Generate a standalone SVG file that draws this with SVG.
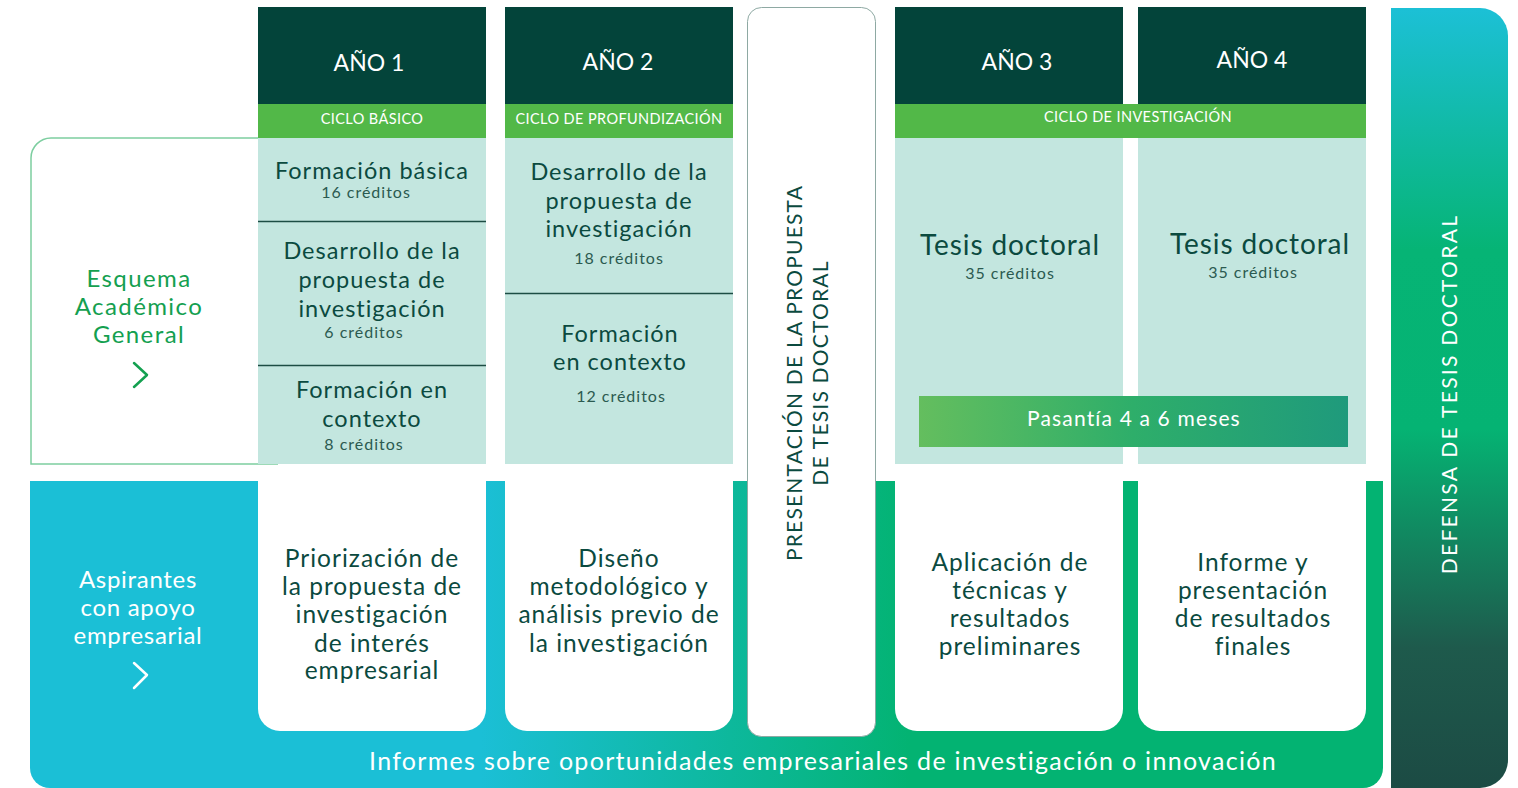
<svg xmlns="http://www.w3.org/2000/svg" width="1518" height="788" viewBox="0 0 1518 788">
<defs>
<linearGradient id="bandGrad" gradientUnits="userSpaceOnUse" x1="480" y1="0" x2="910" y2="0">
<stop offset="0" stop-color="#1bbfd6"/>
<stop offset="1" stop-color="#03b372"/>
</linearGradient>
<linearGradient id="rightGrad" gradientUnits="userSpaceOnUse" x1="0" y1="8" x2="0" y2="788">
<stop offset="0" stop-color="#1cc0d6"/>
<stop offset="0.31" stop-color="#06b475"/>
<stop offset="0.54" stop-color="#05b373"/>
<stop offset="0.82" stop-color="#1e5a4c"/>
<stop offset="1" stop-color="#1c4b44"/>
</linearGradient>
<linearGradient id="pasGrad" gradientUnits="userSpaceOnUse" x1="919" y1="0" x2="1348" y2="0">
<stop offset="0" stop-color="#64be5e"/>
<stop offset="0.5" stop-color="#2eae6a"/>
<stop offset="1" stop-color="#1f9a7c"/>
</linearGradient>
<style>
text{font-family:Lato,"Open Sans","Liberation Sans",sans-serif}
.hdr{font-size:23px;fill:#ffffff;text-anchor:middle}
.cyc{font-size:14.5px;fill:#ffffff;text-anchor:middle;letter-spacing:0.4px}
.body{font-size:23.5px;fill:#0b4a3f;text-anchor:middle;letter-spacing:1px}
.big{font-size:28px;fill:#0b4a3f;text-anchor:middle;letter-spacing:0.9px}
.cred{font-size:16px;fill:#2b5a50;text-anchor:middle;letter-spacing:1px}
.card{font-size:24.5px;fill:#0b4a3f;text-anchor:middle;letter-spacing:1px}
.white{font-size:24px;fill:#ffffff;text-anchor:middle;letter-spacing:0.7px}
.esq{font-size:24px;fill:#14a050;text-anchor:middle;letter-spacing:1.4px}
.dark{fill:#03443a}
.cband{fill:#52b848}
.light{fill:#c3e6df}
.div{stroke:#1d4d44;stroke-width:1.5}
.wcard{fill:#ffffff}
.chev{fill:none;stroke-width:2.5;stroke-linecap:round;stroke-linejoin:round}
</style>
</defs>
<rect width="1518" height="788" fill="#ffffff"/>

<g id="bottom-band">
<path d="M30 481 H1383 V768 A20 20 0 0 1 1363 788 H50 A20 20 0 0 1 30 768 Z" fill="url(#bandGrad)"/>
<text x="823" y="770" style="font-size:25px;fill:#ffffff;text-anchor:middle;letter-spacing:1.3px">Informes sobre oportunidades empresariales de investigación o innovación</text>
</g>

<g id="esquema-academico">
<path d="M278 464 H31 V158 A20 20 0 0 1 51 138 H260" fill="none" stroke="#7dcea0" stroke-width="1.5"/>
<text class="esq" x="139" y="287">Esquema</text>
<text class="esq" x="139" y="315">Académico</text>
<text class="esq" x="139" y="343">General</text>
<polyline class="chev" stroke="#14a050" points="134,363 147,375 134,387"/>
</g>

<g id="aspirantes">
<text class="white" x="138" y="588">Aspirantes</text>
<text class="white" x="138" y="616">con apoyo</text>
<text class="white" x="138" y="644">empresarial</text>
<polyline class="chev" stroke="#ffffff" points="134,663 147,675 134,688"/>
</g>

<g id="anio1">
<rect class="dark" x="258" y="7" width="228" height="97"/>
<rect class="cband" x="258" y="104" width="228" height="34"/>
<rect class="light" x="258" y="138" width="228" height="326"/>
<line class="div" x1="258" y1="221.5" x2="486" y2="221.5"/>
<line class="div" x1="258" y1="365.5" x2="486" y2="365.5"/>
<text class="hdr" x="369" y="71">AÑO 1</text>
<text class="cyc" x="372" y="124">CICLO BÁSICO</text>
<text class="body" x="372" y="179">Formación básica</text>
<text class="cred" x="366" y="198">16 créditos</text>
<text class="body" x="372" y="259">Desarrollo de la</text>
<text class="body" x="372" y="288">propuesta de</text>
<text class="body" x="372" y="317">investigación</text>
<text class="cred" x="364" y="338">6 créditos</text>
<text class="body" x="372" y="398">Formación en</text>
<text class="body" x="372" y="427">contexto</text>
<text class="cred" x="364" y="450">8 créditos</text>
<path class="wcard" d="M258 475 H486 V709 A22 22 0 0 1 464 731 H280 A22 22 0 0 1 258 709 Z"/>
<text class="card" x="372" y="567">Priorización de</text>
<text class="card" x="372" y="595">la propuesta de</text>
<text class="card" x="372" y="623">investigación</text>
<text class="card" x="372" y="652">de interés</text>
<text class="card" x="372" y="679">empresarial</text>
</g>

<g id="anio2">
<rect class="dark" x="505" y="7" width="228" height="97"/>
<rect class="cband" x="505" y="104" width="228" height="34"/>
<rect class="light" x="505" y="138" width="228" height="326"/>
<line class="div" x1="505" y1="293.5" x2="733" y2="293.5"/>
<text class="hdr" x="618" y="70">AÑO 2</text>
<text class="cyc" x="619" y="124">CICLO DE PROFUNDIZACIÓN</text>
<text class="body" x="619" y="180">Desarrollo de la</text>
<text class="body" x="619" y="209">propuesta de</text>
<text class="body" x="619" y="237">investigación</text>
<text class="cred" x="619" y="264">18 créditos</text>
<text class="body" x="620" y="342">Formación</text>
<text class="body" x="620" y="370">en contexto</text>
<text class="cred" x="621" y="402">12 créditos</text>
<path class="wcard" d="M505 475 H733 V709 A22 22 0 0 1 711 731 H527 A22 22 0 0 1 505 709 Z"/>
<text class="card" x="619" y="567">Diseño</text>
<text class="card" x="619" y="595">metodológico y</text>
<text class="card" x="619" y="623">análisis previo de</text>
<text class="card" x="619" y="652">la investigación</text>
</g>

<g id="presentacion">
<rect x="747.5" y="7.5" width="128" height="729" rx="14" fill="#ffffff" stroke="#8ea9a3" stroke-width="1"/>
<text transform="translate(802,373) rotate(-90)" style="font-size:21px;fill:#0b4a3f;text-anchor:middle;letter-spacing:1.2px">PRESENTACIÓN DE LA PROPUESTA</text>
<text transform="translate(828,373) rotate(-90)" style="font-size:21px;fill:#0b4a3f;text-anchor:middle;letter-spacing:1.2px">DE TESIS DOCTORAL</text>
</g>

<g id="anio3">
<rect class="dark" x="895" y="7" width="228" height="97"/>
<rect class="light" x="895" y="138" width="228" height="326"/>
<text class="hdr" x="1017" y="70">AÑO 3</text>
<text class="big" x="1010" y="255">Tesis doctoral</text>
<text class="cred" x="1010" y="279">35 créditos</text>
<path class="wcard" d="M895 475 H1123 V709 A22 22 0 0 1 1101 731 H917 A22 22 0 0 1 895 709 Z"/>
<text class="card" x="1010" y="571">Aplicación de</text>
<text class="card" x="1010" y="599">técnicas y</text>
<text class="card" x="1010" y="627">resultados</text>
<text class="card" x="1010" y="655">preliminares</text>
</g>

<g id="anio4">
<rect class="dark" x="1138" y="7" width="228" height="97"/>
<rect class="light" x="1138" y="138" width="228" height="326"/>
<text class="hdr" x="1252" y="68">AÑO 4</text>
<text class="big" x="1260" y="254">Tesis doctoral</text>
<text class="cred" x="1253" y="278">35 créditos</text>
<path class="wcard" d="M1138 475 H1366 V709 A22 22 0 0 1 1344 731 H1160 A22 22 0 0 1 1138 709 Z"/>
<text class="card" x="1253" y="571">Informe y</text>
<text class="card" x="1253" y="599">presentación</text>
<text class="card" x="1253" y="627">de resultados</text>
<text class="card" x="1253" y="655">finales</text>
</g>

<g id="ciclo-investigacion">
<rect class="cband" x="895" y="104" width="471" height="34"/>
<text class="cyc" x="1138" y="122">CICLO DE INVESTIGACIÓN</text>
</g>

<g id="pasantia">
<rect x="919" y="396" width="429" height="51" fill="url(#pasGrad)"/>
<text x="1134" y="426" style="font-size:21px;fill:#ffffff;text-anchor:middle;letter-spacing:1.15px">Pasantía 4 a 6 meses</text>
</g>

<g id="defensa">
<path d="M1391 8 H1480 A28 28 0 0 1 1508 36 V760 A28 28 0 0 1 1480 788 H1391 Z" fill="url(#rightGrad)"/>
<text transform="translate(1457,394) rotate(-90)" style="font-size:21px;fill:#ffffff;text-anchor:middle;letter-spacing:2.3px">DEFENSA DE TESIS DOCTORAL</text>
</g>

<g id="connectors"></g>
</svg>
